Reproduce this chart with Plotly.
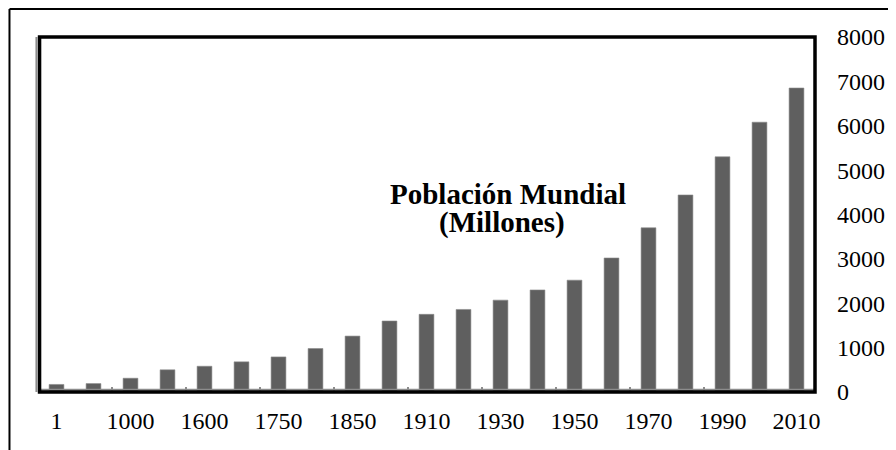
import plotly.graph_objects as go

# Población mundial (millones) por año
anios = ["1", "500", "1000", "1500", "1600", "1700", "1750", "1800", "1850", "1900",
         "1910", "1920", "1930", "1940", "1950", "1960", "1970", "1980", "1990", "2000", "2010"]
poblacion = [170, 190, 310, 500, 580, 680, 790, 980, 1260, 1600,
             1750, 1860, 2070, 2300, 2520, 3020, 3700, 4440, 5300, 6080, 6850]
y_ticks = [0, 1000, 2000, 3000, 4000, 5000, 6000, 7000, 8000]

x_pos = list(range(len(anios)))
label_pos = x_pos[::2]
label_txt = anios[::2]
tick_marks = [p + 1.5 for p in x_pos[:-1:2]][:-1]

FONT = "Liberation Serif"

fig = go.Figure()
fig.add_trace(go.Bar(
    x=x_pos,
    y=poblacion,
    width=0.4,
    marker=dict(color="#5f5f5f", line=dict(color="#8a8a8a", width=0.6)),
    showlegend=False,
))

# la página añade 8 px de margen al cuerpo, así que la figura es 8 px más pequeña
fig.update_layout(
    width=888,
    height=442,
    margin=dict(l=30, r=81, t=29, b=58, autoexpand=False),
    paper_bgcolor="white",
    plot_bgcolor="white",
    font=dict(family=FONT, size=24, color="black"),
    xaxis=dict(
        range=[-0.5, len(anios) - 0.5],
        tickmode="array",
        tickvals=label_pos,
        ticktext=label_txt,
        ticks="",
        showgrid=False,
        showline=False,
        zeroline=False,
        automargin=False,
        ticklabelstandoff=12,
        minor=dict(tickmode="array", tickvals=tick_marks, ticks="inside",
                   ticklen=5, tickwidth=1.5, tickcolor="#8c8c8c", showgrid=False),
    ),
    yaxis=dict(
        side="right",
        range=[0, 8000],
        tickmode="array",
        tickvals=y_ticks,
        ticks="",
        showgrid=False,
        showline=False,
        zeroline=False,
        automargin=False,
        ticklabelstandoff=21,
    ),
)

# marco del área de trazado
fig.add_shape(type="line", xref="paper", yref="paper", x0=-0.002, x1=-0.002, y0=0, y1=1,
              line=dict(color="#8c8c8c", width=2))
fig.add_shape(type="line", xref="paper", yref="paper", x0=0, x1=1, y0=0.006, y1=0.006,
              line=dict(color="#8c8c8c", width=2))
fig.add_shape(type="rect", xref="paper", yref="paper", x0=0.002, x1=1, y0=0, y1=1,
              line=dict(color="black", width=3.5))

# marco exterior del gráfico
fig.add_shape(type="line", xref="paper", yref="paper", x0=-0.0367, x1=-0.0367, y0=-0.2, y1=1.079,
              line=dict(color="black", width=2))
fig.add_shape(type="line", xref="paper", yref="paper", x0=-0.0367, x1=1.15, y0=1.079, y1=1.079,
              line=dict(color="black", width=2))

# título dentro del gráfico
fig.add_annotation(x=12.2, y=(392 - 194) / 355 * 8000, xref="x", yref="y",
                   text="<b>Población Mundial</b>", showarrow=False,
                   font=dict(family=FONT, size=29, color="black"))
fig.add_annotation(x=12.04, y=(392 - 222) / 355 * 8000, xref="x", yref="y",
                   text="<b>(Millones)</b>", showarrow=False,
                   font=dict(family=FONT, size=29, color="black"))

fig.write_html("out.html")
